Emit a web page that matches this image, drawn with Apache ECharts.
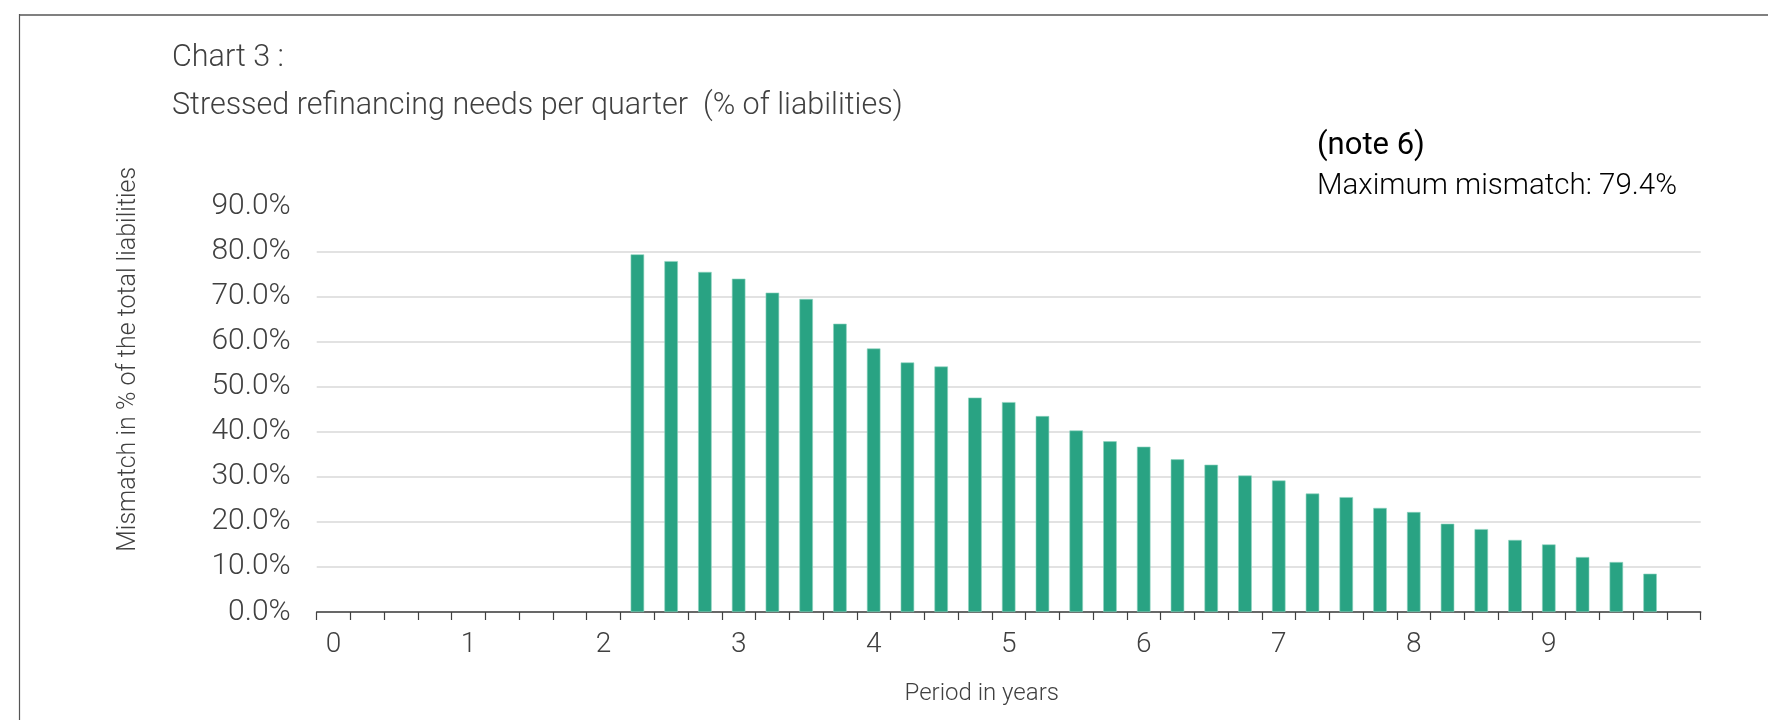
<!DOCTYPE html>
<html>
<head>
<meta charset="utf-8">
<script src="https://cdn.jsdelivr.net/npm/echarts@6/dist/echarts.min.js"></script>
<style>
  html, body { margin: 0; padding: 0; background: #fff; }
  #chart { width: 1768px; height: 720px; }
</style>
</head>
<body>
<div id="chart"></div>
<script>
// Quarter categories (years shown at every 4th quarter)
const xLabels = ['0','','','','1','','','','2','','','','3','','','','4','','','','5','','','','6','','','','7','','','','8','','','','9','','','',''];
// Stressed refinancing needs (% of liabilities) per quarter
const mismatch = [null,null,null,null,null,null,null,null,null,
  79.4,77.9,75.5,74.0,70.9,69.5,64.0,58.5,55.4,54.5,
  47.6,46.6,43.5,40.3,37.9,36.7,33.9,32.7,30.3,29.2,
  26.3,25.5,23.1,22.2,19.6,18.4,16.0,15.0,12.2,11.1,8.5,
  null];
const yTicks = [0,10,20,30,40,50,60,70,80,90];
const titleLines = ['Chart 3 :', 'Stressed refinancing needs per quarter  (% of liabilities)'];
const noteText = '(note 6)';
const maxText = 'Maximum mismatch: 79.4%';

const FONT = 'Roboto, "Open Sans", "Noto Sans", sans-serif';
const chart = echarts.init(document.getElementById('chart'));
const gridColors = yTicks.map((v, i) => i === yTicks.length - 1 ? 'rgba(0,0,0,0)' : '#d9d9d9');

chart.setOption({
  backgroundColor: '#ffffff',
  animation: false,
  title: [
    { text: titleLines.join('\n'), left: 167, top: 29,
      textStyle: { fontFamily: FONT, fontWeight: 300, fontSize: 30.5, lineHeight: 48, color: '#404040' } },
    { text: noteText, left: 1312, top: 124,
      textStyle: { fontFamily: FONT, fontWeight: 400, fontSize: 31, lineHeight: 34, color: '#000000' } },
    { text: maxText, left: 1312, top: 164,
      textStyle: { fontFamily: FONT, fontWeight: 300, fontSize: 29.5, lineHeight: 36, color: '#000000' } }
  ],
  graphic: [
    { type: 'line', shape: { x1: 19, y1: 15, x2: 1768, y2: 15 }, style: { stroke: '#808080', lineWidth: 2 } },
    { type: 'line', shape: { x1: 19.5, y1: 14, x2: 19.5, y2: 720 }, style: { stroke: '#555555', lineWidth: 1.2 } }
  ],
  grid: { left: 316.7, right: 67.3, top: 206.6, bottom: 108, containLabel: false },
  xAxis: {
    type: 'category',
    data: xLabels,
    name: 'Period in years',
    nameLocation: 'middle',
    nameGap: 70,
    nameTextStyle: { fontFamily: FONT, fontWeight: 300, fontSize: 24, color: '#404040', padding: [0, 54, 0, 0] },
    axisLine: { lineStyle: { color: '#404040', width: 1.5 } },
    axisTick: { show: true, interval: 0, alignWithLabel: false, length: 8, lineStyle: { color: '#404040', width: 1.2 } },
    axisLabel: { interval: 0, margin: 19, fontFamily: FONT, fontWeight: 300, fontSize: 28, color: '#404040' }
  },
  yAxis: {
    type: 'value',
    min: 0, max: 90, interval: 10,
    name: 'Mismatch in % of the total liabilities',
    nameLocation: 'middle',
    nameGap: 175,
    nameTextStyle: { fontFamily: FONT, fontWeight: 300, fontSize: 25, color: '#404040', padding: [0, 0, 0, 100] },
    axisLine: { show: false },
    axisTick: { show: false },
    axisLabel: { margin: 26, fontFamily: FONT, fontWeight: 300, fontSize: 30, color: '#404040',
      formatter: v => v.toFixed(1) + '%' },
    splitLine: { show: true, lineStyle: { color: gridColors, width: 1.5 } }
  },
  series: [{
    type: 'bar',
    data: mismatch,
    barWidth: 13.5,
    itemStyle: { color: '#29a383', borderColor: '#8fd3bf', borderWidth: 0.6 }
  }]
});
</script>
</body>
</html>
